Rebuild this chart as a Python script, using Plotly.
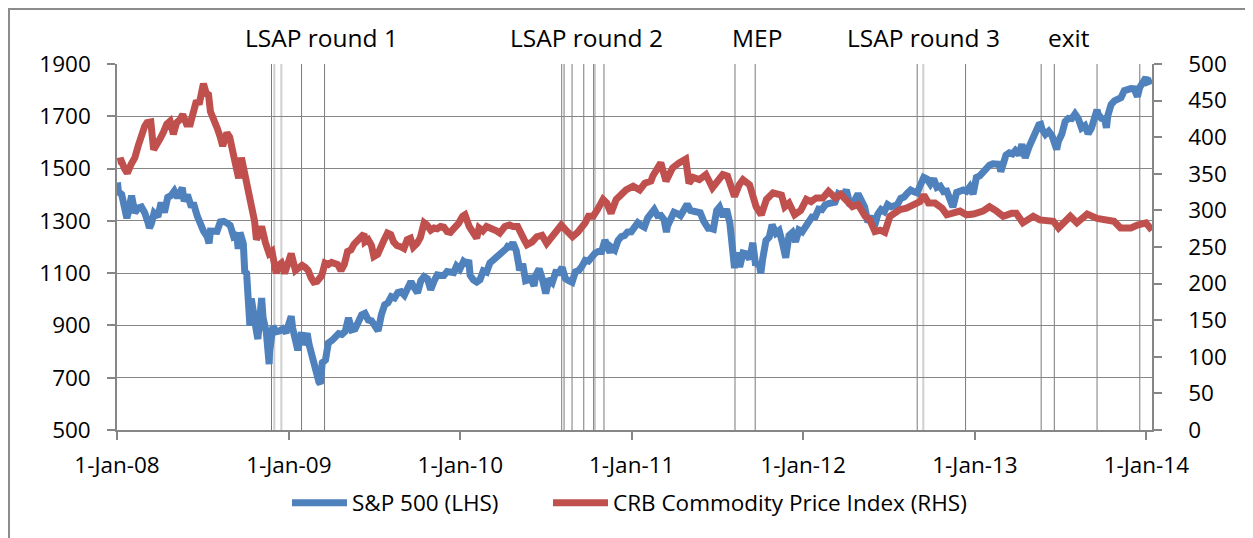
import plotly.graph_objects as go

# ---------------- data ----------------
sp_dates = [
 "2008-01-02","2008-01-04","2008-01-11","2008-01-18","2008-01-22","2008-01-25","2008-02-01","2008-02-08","2008-02-15","2008-02-22","2008-02-29",
 "2008-03-07","2008-03-10","2008-03-14","2008-03-20","2008-03-28","2008-04-04","2008-04-11","2008-04-18","2008-04-25","2008-05-02","2008-05-09",
 "2008-05-16","2008-05-19","2008-05-23","2008-05-30","2008-06-06","2008-06-13","2008-06-20","2008-06-27","2008-07-03","2008-07-11","2008-07-15",
 "2008-07-18","2008-07-25","2008-08-01","2008-08-08","2008-08-15","2008-08-22","2008-08-29","2008-09-05","2008-09-12","2008-09-15","2008-09-19",
 "2008-09-26","2008-09-29","2008-10-03","2008-10-10","2008-10-13","2008-10-17","2008-10-24","2008-10-27","2008-10-31","2008-11-04","2008-11-07",
 "2008-11-14","2008-11-20","2008-11-21","2008-11-28","2008-12-05","2008-12-12","2008-12-19","2008-12-26","2008-12-31",
 "2009-01-02","2009-01-06","2009-01-09","2009-01-16","2009-01-20","2009-01-23","2009-01-28","2009-01-30","2009-02-06","2009-02-09","2009-02-13",
 "2009-02-20","2009-02-27","2009-03-06","2009-03-09","2009-03-13","2009-03-20","2009-03-26","2009-04-03","2009-04-09","2009-04-17","2009-04-24",
 "2009-05-01","2009-05-08","2009-05-15","2009-05-22","2009-05-29","2009-06-05","2009-06-12","2009-06-19","2009-06-26","2009-07-02","2009-07-10",
 "2009-07-17","2009-07-24","2009-07-31","2009-08-07","2009-08-14","2009-08-21","2009-08-28","2009-09-04","2009-09-11","2009-09-18","2009-09-25",
 "2009-10-02","2009-10-09","2009-10-16","2009-10-23","2009-10-30","2009-11-06","2009-11-13","2009-11-20","2009-11-27","2009-12-04","2009-12-11",
 "2009-12-18","2009-12-24","2009-12-31",
 "2010-01-08","2010-01-15","2010-01-19","2010-01-22","2010-01-29","2010-02-05","2010-02-12","2010-02-19","2010-02-26","2010-03-05","2010-03-12",
 "2010-03-19","2010-03-26","2010-04-01","2010-04-09","2010-04-15","2010-04-16","2010-04-23","2010-04-30","2010-05-06","2010-05-07","2010-05-14",
 "2010-05-20","2010-05-25","2010-05-28","2010-06-04","2010-06-07","2010-06-11","2010-06-18","2010-06-25","2010-07-02","2010-07-09","2010-07-16",
 "2010-07-23","2010-07-30","2010-08-06","2010-08-13","2010-08-20","2010-08-27","2010-09-03","2010-09-10","2010-09-17","2010-09-24","2010-10-01",
 "2010-10-08","2010-10-15","2010-10-22","2010-10-29","2010-11-05","2010-11-12","2010-11-16","2010-11-19","2010-11-26","2010-12-03","2010-12-10",
 "2010-12-17","2010-12-23","2010-12-31",
 "2011-01-07","2011-01-14","2011-01-21","2011-01-28","2011-02-04","2011-02-11","2011-02-18","2011-02-25","2011-03-04","2011-03-11","2011-03-16",
 "2011-03-18","2011-03-25","2011-04-01","2011-04-08","2011-04-15","2011-04-21","2011-04-29","2011-05-06","2011-05-13","2011-05-20","2011-05-27",
 "2011-06-03","2011-06-10","2011-06-15","2011-06-17","2011-06-24","2011-07-01","2011-07-07","2011-07-15","2011-07-22","2011-07-29","2011-08-05",
 "2011-08-08","2011-08-12","2011-08-19","2011-08-26","2011-09-02","2011-09-09","2011-09-16","2011-09-22","2011-09-23","2011-09-30","2011-10-03",
 "2011-10-07","2011-10-14","2011-10-21","2011-10-27","2011-11-04","2011-11-11","2011-11-18","2011-11-25","2011-12-02","2011-12-09","2011-12-16",
 "2011-12-23","2011-12-30",
 "2012-01-06","2012-01-13","2012-01-20","2012-01-27","2012-02-03","2012-02-10","2012-02-17","2012-02-24","2012-03-02","2012-03-09","2012-03-16",
 "2012-03-23","2012-03-30","2012-04-02","2012-04-05","2012-04-10","2012-04-13","2012-04-20","2012-04-27","2012-05-04","2012-05-11","2012-05-18",
 "2012-05-25","2012-06-01","2012-06-08","2012-06-15","2012-06-22","2012-06-29","2012-07-06","2012-07-13","2012-07-20","2012-07-27","2012-08-03",
 "2012-08-10","2012-08-17","2012-08-24","2012-08-31","2012-09-07","2012-09-14","2012-09-21","2012-09-28","2012-10-05","2012-10-12","2012-10-19",
 "2012-10-26","2012-11-02","2012-11-09","2012-11-15","2012-11-16","2012-11-23","2012-11-30","2012-12-07","2012-12-14","2012-12-21","2012-12-28",
 "2012-12-31",
 "2013-01-04","2013-01-11","2013-01-18","2013-01-25","2013-02-01","2013-02-08","2013-02-15","2013-02-22","2013-02-25","2013-03-01","2013-03-08",
 "2013-03-15","2013-03-22","2013-03-28","2013-04-05","2013-04-11","2013-04-18","2013-04-26","2013-05-03","2013-05-10","2013-05-17","2013-05-21",
 "2013-05-24","2013-05-31","2013-06-07","2013-06-14","2013-06-21","2013-06-24","2013-06-28","2013-07-05","2013-07-12","2013-07-19","2013-07-26",
 "2013-08-02","2013-08-09","2013-08-16","2013-08-23","2013-08-30","2013-09-06","2013-09-13","2013-09-18","2013-09-20","2013-09-27","2013-10-04",
 "2013-10-08","2013-10-11","2013-10-18","2013-10-25","2013-11-01","2013-11-08","2013-11-15","2013-11-22","2013-11-29","2013-12-06","2013-12-13",
 "2013-12-18","2013-12-20","2013-12-27","2013-12-31","2014-01-03","2014-01-10","2014-01-13",
]
sp_values = [
 1447,1411,1401,1325,1310,1331,1396,1331,1349,1353,1331,
 1294,1273,1288,1330,1316,1370,1332,1390,1397,1414,1388,
 1425,1427,1375,1400,1361,1360,1318,1278,1262,1240,1214,
 1261,1257,1260,1296,1298,1292,1283,1242,1252,1193,1255,
 1213,1106,1099,899,1003,940,877,848,968,1005,930,
 873,752,800,896,876,879,887,872,903,
 932,935,890,850,805,832,874,826,869,870,827,
 770,735,683,677,757,768,833,843,857,869,866,
 877,929,883,887,919,940,946,921,918,896,879,
 941,979,987,1010,1005,1026,1029,1016,1042,1068,1044,
 1025,1071,1087,1079,1036,1069,1093,1091,1091,1106,1106,
 1102,1127,1115,
 1145,1136,1150,1092,1074,1066,1075,1109,1104,1139,1150,
 1160,1167,1179,1194,1211,1192,1217,1187,1128,1111,1136,
 1071,1074,1089,1065,1051,1092,1117,1076,1022,1078,1065,
 1103,1102,1122,1079,1071,1065,1105,1110,1126,1149,1146,
 1166,1176,1183,1183,1226,1200,1178,1199,1189,1225,1240,
 1244,1257,1258,
 1272,1293,1283,1276,1311,1329,1343,1320,1321,1304,1257,
 1279,1314,1333,1328,1320,1338,1364,1340,1338,1333,1331,
 1300,1271,1265,1272,1268,1340,1353,1316,1345,1292,1199,
 1119,1179,1124,1177,1174,1154,1216,1129,1136,1131,1099,
 1155,1225,1238,1285,1253,1263,1216,1159,1244,1255,1220,
 1265,1258,
 1278,1289,1315,1316,1345,1343,1361,1366,1370,1371,1404,
 1397,1408,1419,1398,1358,1370,1379,1403,1369,1353,1295,
 1318,1278,1325,1343,1335,1362,1354,1357,1363,1386,1391,
 1406,1418,1411,1407,1438,1466,1460,1441,1461,1428,1433,
 1412,1414,1380,1353,1359,1409,1416,1418,1413,1430,1402,
 1426,
 1466,1472,1486,1503,1513,1518,1520,1516,1488,1518,1551,
 1560,1556,1569,1553,1593,1541,1582,1614,1633,1667,1669,
 1650,1631,1643,1626,1593,1573,1606,1632,1680,1692,1691,
 1709,1691,1655,1664,1633,1655,1688,1725,1710,1692,1690,
 1656,1703,1745,1759,1762,1771,1798,1804,1806,1805,1775,
 1811,1818,1841,1848,1831,1842,1838,
]

crb_dates = [
 "2008-01-02","2008-01-10","2008-01-17","2008-01-23","2008-01-31","2008-02-08","2008-02-15","2008-02-22","2008-02-29","2008-03-05",
 "2008-03-13","2008-03-19","2008-03-25","2008-04-01","2008-04-09","2008-04-16","2008-04-23","2008-04-30","2008-05-07","2008-05-14",
 "2008-05-20","2008-05-28","2008-06-05","2008-06-12","2008-06-17","2008-06-25","2008-07-03","2008-07-09","2008-07-14","2008-07-18",
 "2008-07-25","2008-08-01","2008-08-08","2008-08-13","2008-08-22","2008-08-28","2008-09-04","2008-09-10","2008-09-16","2008-09-22",
 "2008-09-29","2008-10-03","2008-10-10","2008-10-14","2008-10-20","2008-10-24","2008-10-30","2008-11-04","2008-11-12","2008-11-20",
 "2008-11-26","2008-12-05","2008-12-10","2008-12-16","2008-12-23","2008-12-31",
 "2009-01-06","2009-01-15","2009-01-22","2009-01-29","2009-02-05","2009-02-11","2009-02-18","2009-02-23","2009-03-02","2009-03-06",
 "2009-03-12","2009-03-19","2009-03-26","2009-04-02","2009-04-08","2009-04-15","2009-04-22","2009-04-29","2009-05-06","2009-05-13",
 "2009-05-20","2009-05-27","2009-06-03","2009-06-10","2009-06-12","2009-06-19","2009-06-26","2009-07-01","2009-07-09","2009-07-16",
 "2009-07-23","2009-07-30","2009-08-06","2009-08-12","2009-08-19","2009-08-28","2009-09-03","2009-09-10","2009-09-17","2009-09-23",
 "2009-10-01","2009-10-08","2009-10-16","2009-10-22","2009-10-30","2009-11-06","2009-11-13","2009-11-20","2009-11-27","2009-12-04",
 "2009-12-11","2009-12-18","2009-12-28",
 "2010-01-06","2010-01-11","2010-01-20","2010-01-29","2010-02-05","2010-02-10","2010-02-18","2010-02-26","2010-03-05","2010-03-12",
 "2010-03-19","2010-03-26","2010-04-06","2010-04-16","2010-04-23","2010-05-03","2010-05-12","2010-05-17","2010-05-23","2010-06-03",
 "2010-06-13","2010-06-24","2010-07-04","2010-07-14","2010-07-22","2010-08-04","2010-08-14","2010-08-21","2010-08-28","2010-09-08",
 "2010-09-17","2010-09-24","2010-10-01","2010-10-11","2010-10-20","2010-11-01","2010-11-09","2010-11-18","2010-11-29","2010-12-10",
 "2010-12-20",
 "2011-01-04","2011-01-18","2011-01-29","2011-02-11","2011-02-15","2011-03-04","2011-03-15","2011-03-29","2011-04-12","2011-04-26",
 "2011-05-03","2011-05-12","2011-05-25","2011-06-08","2011-06-22","2011-07-01","2011-07-14","2011-07-24","2011-08-08","2011-08-18",
 "2011-08-26","2011-09-09","2011-09-23","2011-10-04","2011-10-15","2011-10-29","2011-11-16","2011-11-23","2011-12-02","2011-12-14",
 "2011-12-27",
 "2012-01-08","2012-01-18","2012-01-29","2012-02-12","2012-02-24","2012-03-10","2012-03-21","2012-04-04","2012-04-15","2012-04-27",
 "2012-05-12","2012-05-22","2012-06-02","2012-06-13","2012-06-23","2012-07-04","2012-07-15","2012-07-25","2012-08-08","2012-08-23",
 "2012-09-06","2012-09-14","2012-09-24","2012-10-08","2012-10-23","2012-11-02","2012-11-16","2012-11-30","2012-12-14","2012-12-29",
 "2013-01-18","2013-02-01","2013-02-16","2013-03-02","2013-03-20","2013-03-30","2013-04-13","2013-05-05","2013-05-19","2013-06-03",
 "2013-06-17","2013-06-28","2013-07-16","2013-07-23","2013-08-06","2013-08-28","2013-09-18","2013-10-10","2013-10-24","2013-11-07",
 "2013-11-29","2013-12-13","2013-12-31","2014-01-13",
]
crb_values = [
 367,368,357,351,363,372,388,403,415,420,
 421,383,392,397,407,418,422,404,420,424,
 431,418,418,432,447,448,473,460,458,435,
 420,413,400,388,406,400,379,365,344,372,
 350,333,308,296,285,260,272,278,256,241,
 244,214,225,228,214,229,
 241,218,222,225,222,218,207,202,203,207,
 211,228,226,229,228,226,218,226,244,246,
 254,259,266,268,257,260,252,237,240,248,
 260,269,267,257,252,250,248,260,262,250,
 255,263,283,280,273,276,275,278,277,271,
 270,275,282,
 292,294,278,270,262,276,272,278,276,276,
 272,269,278,280,278,278,269,260,253,257,
 264,266,255,264,270,280,273,268,264,270,
 276,283,292,292,301,315,310,296,315,322,
 328,
 333,328,337,340,347,365,340,358,365,370,
 337,345,342,349,331,340,349,347,319,335,
 342,335,305,294,315,324,321,305,310,294,
 300,
 315,312,317,317,326,317,322,313,305,308,
 292,287,271,273,270,292,296,301,303,308,
 312,321,310,310,303,294,296,299,294,295,
 299,305,299,292,296,296,283,292,287,285,
 285,276,287,292,283,295,289,287,285,276,
 276,280,283,273,
]

year_ticks = ["2008-01-01","2009-01-01","2010-01-01","2011-01-01","2012-01-01","2013-01-01","2014-01-01"]
year_labels = ["1-Jan-08","1-Jan-09","1-Jan-10","1-Jan-11","1-Jan-12","1-Jan-13","1-Jan-14"]

event_dates_dark = ["2008-11-25","2009-01-28","2009-03-18",
                    "2010-08-05","2010-08-10","2010-08-27","2010-09-21","2010-10-12","2010-11-03",
                    "2011-08-09","2011-09-21",
                    "2012-08-31","2012-12-12",
                    "2013-05-22","2013-06-19","2013-09-18","2013-12-18"]
event_dates_light = ["2008-12-01","2008-12-16","2010-10-15","2012-09-13"]

labels_text = ["LSAP round 1","LSAP round 2","MEP","LSAP round 3","exit"]
labels_date = ["2009-03-12","2010-09-27","2011-09-24","2012-09-14","2013-07-20"]

left_ticks = [500,700,900,1100,1300,1500,1700,1900]
right_ticks = [0,50,100,150,200,250,300,350,400,450,500]

# ---------------- figure ----------------
FONT = "Open Sans"
GRID = "#868686"
PW, PH = 1035, 366   # plot-area size in px

fig = go.Figure()
fig.add_trace(go.Scatter(x=sp_dates, y=sp_values, mode="lines", name="S&P 500 (LHS)",
                         line=dict(color="#4F81BD", width=7), yaxis="y", legend="legend"))
fig.add_trace(go.Scatter(x=crb_dates, y=crb_values, mode="lines", name="CRB Commodity Price Index (RHS)",
                         line=dict(color="#C0504D", width=7), yaxis="y2", legend="legend2"))

for d in event_dates_light:
    fig.add_shape(type="line", xref="x", yref="paper", x0=d, x1=d, y0=0, y1=1,
                  line=dict(color="#cfcfcf", width=2), layer="between")
for d in event_dates_dark:
    fig.add_shape(type="line", xref="x", yref="paper", x0=d, x1=d, y0=0, y1=1,
                  line=dict(color="#7a7a7a", width=1), layer="between")

# outer chart border (figure sits 8px into the page)
fig.add_shape(type="rect", xref="paper", yref="paper",
              x0=-108 / PW, x1=1200 / PW, y0=-130 / PH, y1=1 + 55 / PH,
              line=dict(color="#8c8c8c", width=2), fillcolor="rgba(0,0,0,0)", layer="below")

for t, d in zip(labels_text, labels_date):
    fig.add_annotation(x=d, xref="x", y=1 + 26 / PH, yref="paper", text=t, showarrow=False,
                       xanchor="center", yanchor="middle", font=dict(family=FONT, size=24.5, color="black"))

legend_common = dict(orientation="h", xanchor="left", y=-73 / PH, yanchor="middle",
                     font=dict(family=FONT, size=22.5, color="black"), itemwidth=55,
                     bgcolor="rgba(0,0,0,0)")

fig.update_layout(
    width=1253, height=538,
    margin=dict(l=109, r=109, t=56, b=116),
    paper_bgcolor="white", plot_bgcolor="white",
    font=dict(family=FONT, size=22.5, color="black"),
    showlegend=True,
    legend=dict(x=(287 - 117) / PW, **legend_common),
    legend2=dict(x=(548 - 117) / PW, **legend_common),
    xaxis=dict(type="date", range=["2008-01-01", "2014-01-13"], tickvals=year_ticks, ticktext=year_labels,
               showgrid=False, zeroline=False, showline=True, linecolor=GRID, linewidth=1.5,
               ticks="outside", ticklen=8, tickcolor=GRID, tickwidth=1.5, ticklabelstandoff=6),
    yaxis=dict(range=[500, 1900], tickvals=left_ticks, showgrid=True, gridcolor=GRID, gridwidth=1.4,
               zeroline=False, showline=True, linecolor=GRID, linewidth=1.5,
               ticks="outside", ticklen=8, tickcolor=GRID, tickwidth=1.5, ticklabelstandoff=12),
    yaxis2=dict(range=[0, 500], tickvals=right_ticks, overlaying="y", side="right", showgrid=False,
                zeroline=False, showline=True, linecolor=GRID, linewidth=1.5,
                ticks="outside", ticklen=8, tickcolor=GRID, tickwidth=1.5, ticklabelstandoff=22),
)

fig.write_html("out.html")
